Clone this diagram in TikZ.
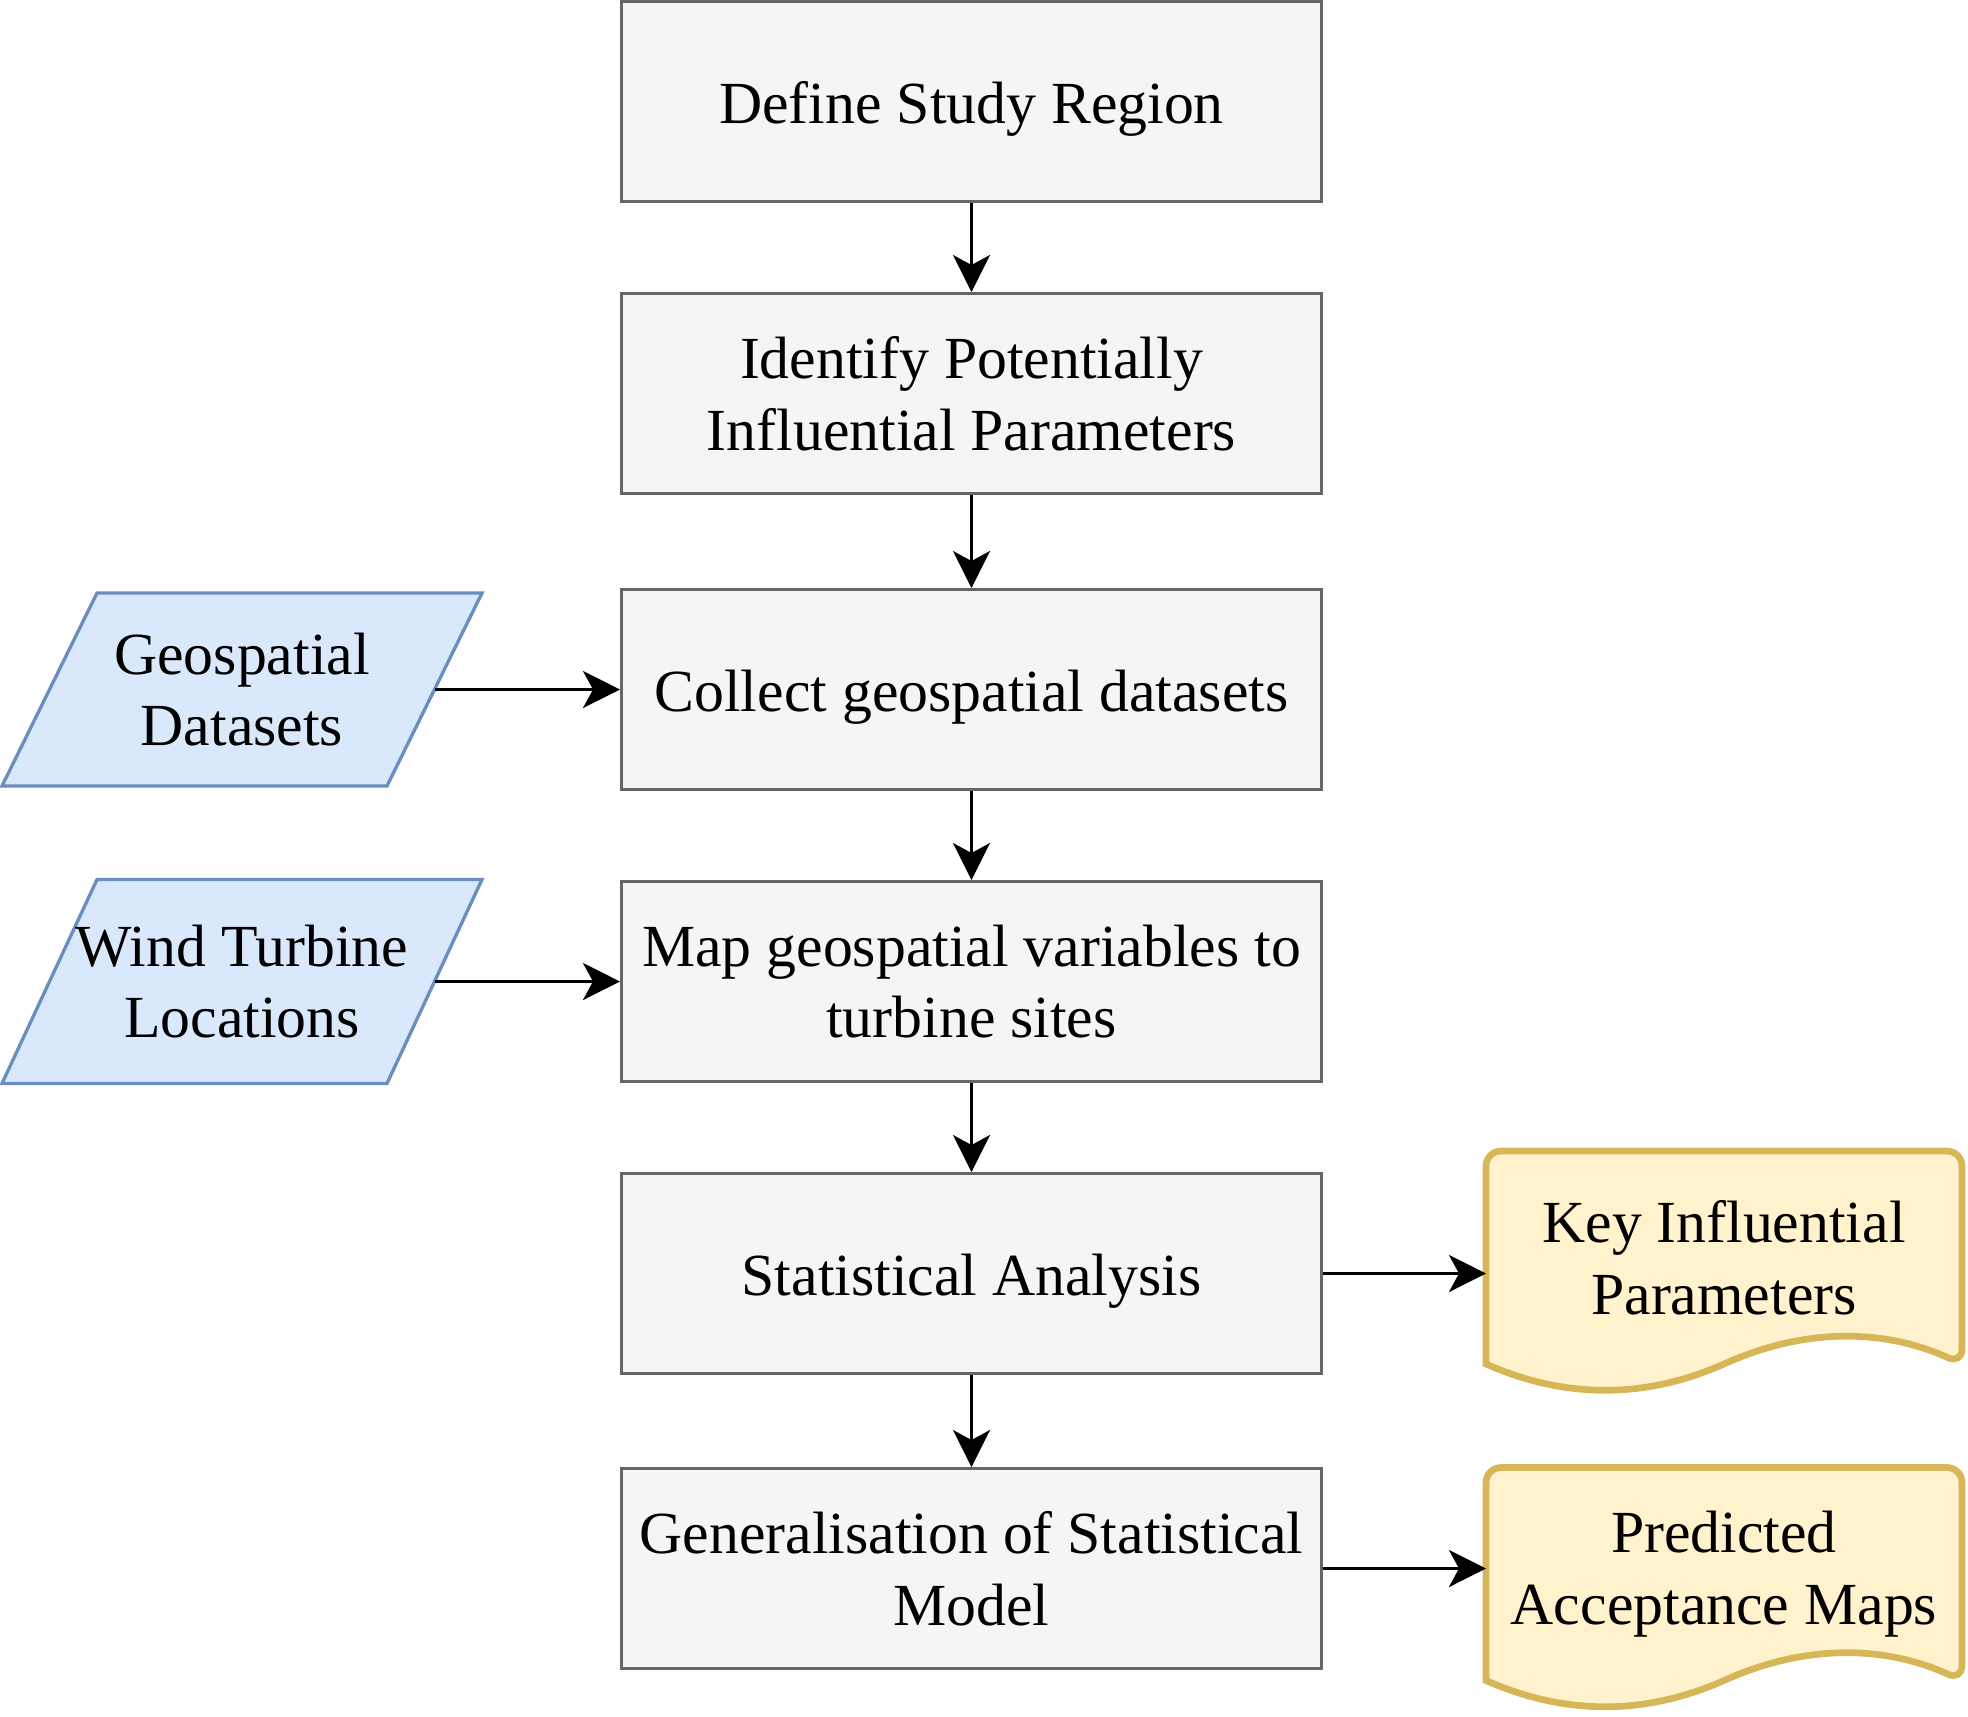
\documentclass[tikz,border=0pt]{standalone}
\usepackage{fontspec}
\setmainfont{Liberation Serif}
\usetikzlibrary{arrows.meta, backgrounds}

\definecolor{procfill}{HTML}{F5F5F5}
\definecolor{procline}{HTML}{666666}
\definecolor{inputfill}{HTML}{DAE8FC}
\definecolor{inputline}{HTML}{6C8EBF}
\definecolor{docfill}{HTML}{FFF2CC}
\definecolor{docline}{HTML}{D6B656}

% Slanted outline round a data source node.
\newcommand{\inputoutline}[1]{%
    \draw[inputshape] ([xshift = -0.475cm]#1.south west) -- ([xshift = 0.475cm]#1.north west)
        -- ([xshift = 0.475cm]#1.north east) -- ([xshift = -0.475cm]#1.south east) -- cycle;}

% Document outline with a wavy bottom round a result node.
\newcommand{\docoutline}[1]{%
    \draw[docshape, shift = {(#1.north west)}] (0.0, -2.13) [rounded corners = 0.15cm]
        -- (0.0, 0.0) -- (4.76, 0.0) -- (4.76, -2.13) [sharp corners]
        .. controls (3.967, -1.77) and (3.173, -1.77) .. (2.38, -2.13)
        .. controls (1.587, -2.48) and (0.793, -2.48) .. (0.0, -2.13) -- cycle;}

\begin{document}
\begin{tikzpicture}[%
        font = \fontsize{17pt}{20.4pt}\selectfont,
        > = {Stealth[length = 3.7mm, width = 3.7mm, inset = 1mm]},
        line width = 1pt,
        processbox/.style = {draw = procline, fill = procfill, line width = 0.85pt,
            minimum width = 7cm, minimum height = 2cm, align = center, inner sep = 0pt},
        oneline/.style = {text height = 17pt, text depth = 4.5pt},
        inputbox/.style = {minimum width = 3.85cm, align = center, inner sep = 0pt, outer sep = 0pt},
        inputshape/.style = {draw = inputline, fill = inputfill, line width = 0.95pt},
        docbox/.style = {minimum width = 4.76cm, minimum height = 2.13cm, align = center,
            inner sep = 0pt, outer sep = 0pt},
        docshape/.style = {draw = docline, fill = docfill, line width = 1.9pt}
    ]

        \useasboundingbox (0.0, 0.0) rectangle (19.68, -17.16);

        % Positions for all of the boxes.
        \coordinate (P1) at (9.715, -1.015);
        \coordinate (P2) at (9.715, -3.935);
        \coordinate (P3) at (9.715, -6.895);
        \coordinate (P4) at (9.715, -9.815);
        \coordinate (P5) at (9.715, -12.735);
        \coordinate (P6) at (9.715, -15.685);
        \coordinate (G) at (2.42, -6.895);
        \coordinate (W) at (2.42, -9.815);
        \coordinate (K) at (17.24, -12.575);
        \coordinate (M) at (17.24, -15.74);

        % The main chain of steps.
        \node[processbox, oneline] (define) at (P1) {Define Study Region};
        \node[processbox] (identify) at (P2) {Identify Potentially\\Influential Parameters};
        \node[processbox, oneline] (collect) at (P3) {Collect geospatial datasets};
        \node[processbox] (mapvars) at (P4) {Map geospatial variables to\\turbine sites};
        \node[processbox, oneline] (stats) at (P5) {Statistical Analysis};
        \node[processbox] (general) at (P6) {Generalisation of Statistical\\Model};

        % Data sources on the left.
        \node[inputbox, minimum height = 1.93cm] (geodata) at (G) {Geospatial\\Datasets};
        \node[inputbox, minimum height = 2.04cm] (turbines) at (W) {Wind Turbine\\Locations};

        % Results on the right.
        \node[docbox] (keyparams) at (K) {Key Influential\\Parameters};
        \node[docbox] (accmaps) at (M) {Predicted\\Acceptance Maps};

        % Outlines go behind the text.
        \begin{scope}[on background layer]
            \inputoutline{geodata}
            \inputoutline{turbines}
            \docoutline{keyparams}
            \docoutline{accmaps}
        \end{scope}

        % Arrows down the chain.
        \draw[->] (define) to (identify);
        \draw[->] (identify) to (collect);
        \draw[->] (collect) to (mapvars);
        \draw[->] (mapvars) to (stats);
        \draw[->] (stats) to (general);

        % Arrows in from the data and out to the results.
        \draw[->] (geodata) to (collect);
        \draw[->] (turbines) to (mapvars);
        \draw[->] (stats) to (stats -| keyparams.west);
        \draw[->] (general) to (general -| accmaps.west);
    \end{tikzpicture}
\end{document}
